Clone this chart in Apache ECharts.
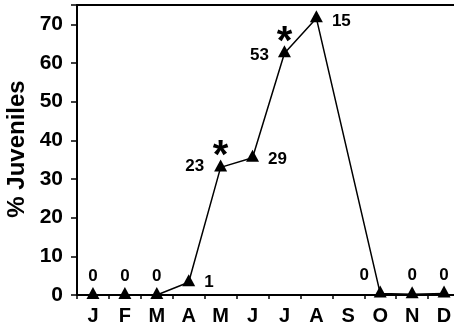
<!DOCTYPE html>
<html>
<head>
<meta charset="utf-8">
<script src="https://cdn.jsdelivr.net/npm/echarts@6/dist/echarts.min.js"></script>
<style>
html, body { margin: 0; padding: 0; background: #fff; }
#chart { width: 454px; height: 332px; }
</style>
</head>
<body>
<div id="chart"></div>
<script>
// months of the year
var months = ['J', 'F', 'M', 'A', 'M', 'J', 'J', 'A', 'S', 'O', 'N', 'D'];
// percent juveniles per month (no sample in S)
var juveniles = [0, 0, 0, 3.3, 33, 35.5, 62.5, 71.6, null, 0.4, 0.2, 0.4];
// sample size written next to each point
var sampleSizes = ['0', '0', '0', '1', '23', '29', '53', '15', '', '0', '0', '0'];
// months marked with an asterisk
var significant = [false, false, false, false, true, false, true, false, false, false, false, false];
var yTicks = [0, 10, 20, 30, 40, 50, 60, 70];
var yTitle = '% Juveniles';

var font = 'Liberation Sans, Arial, sans-serif';

// where each count label sits
var placement = {
    3: { position: 'right', offset: [0, 2] },
    4: { position: 'left', offset: [-1, 1] },
    5: { position: 'right', offset: [0, 4] },
    6: { position: 'left', offset: [0, 4] },
    7: { position: 'right', offset: [0, 5] },
    9: { position: 'top', offset: [-16, 0] }
};

var lineData = juveniles.map(function (v, i) {
    var p = placement[i] || { position: 'top' };
    return {
        value: v,
        label: {
            position: p.position,
            offset: p.offset || [0, 0],
            distance: p.position === 'top' ? 2 : 9,
            formatter: sampleSizes[i]
        }
    };
});

var starData = juveniles.map(function (v, i) {
    return significant[i] ? [i, v] : null;
}).filter(function (d) { return d; });

var myChart = echarts.init(document.getElementById('chart'));
var option = {
    animation: false,
    grid: { left: 77, right: -6, top: 5, bottom: 37, outerBoundsMode: 'none' },
    // y axis title, turned to read upwards
    graphic: [{
        type: 'text',
        x: 17,
        y: 149,
        rotation: Math.PI / 2,
        style: {
            text: yTitle,
            fill: '#000',
            font: 'bold 24px ' + font,
            align: 'center',
            verticalAlign: 'middle'
        }
    }],
    xAxis: [{
        type: 'category',
        data: months,
        axisLine: { lineStyle: { color: '#000', width: 2 } },
        axisTick: { show: true, length: 4, lineStyle: { color: '#000', width: 1.5 } },
        axisLabel: { color: '#000', fontFamily: font, fontWeight: 'bold', fontSize: 20, margin: 11 }
    }, {
        type: 'category',
        position: 'top',
        data: months,
        axisLine: { show: true, lineStyle: { color: '#000', width: 2 } },
        axisTick: { show: false },
        axisLabel: { show: false }
    }],
    yAxis: {
        type: 'value',
        min: 0,
        max: 75,
        interval: 10,
        axisLine: { show: true, lineStyle: { color: '#000', width: 2 } },
        axisTick: { show: true, length: 6, lineStyle: { color: '#000', width: 1.5 } },
        axisLabel: {
            color: '#000', fontFamily: font, fontWeight: 'bold', fontSize: 21, margin: 14,
            formatter: function (v) { return yTicks.indexOf(v) >= 0 ? v : ''; }
        },
        splitLine: { show: false }
    },
    series: [{
        type: 'line',
        data: lineData,
        connectNulls: true,
        symbol: 'triangle',
        symbolSize: [13, 12],
        symbolOffset: [0, -2],
        itemStyle: { color: '#000' },
        lineStyle: { color: '#000', width: 1.5 },
        label: {
            show: true,
            color: '#000',
            fontFamily: font,
            fontWeight: 'bold',
            fontSize: 17
        },
        z: 3
    }, {
        type: 'scatter',
        data: starData,
        symbol: 'circle',
        symbolSize: 1,
        itemStyle: { color: 'rgba(0,0,0,0)', opacity: 1 },
        label: {
            show: true,
            position: 'top',
            distance: 0,
            offset: [0, 10],
            formatter: '*',
            color: '#000',
            opacity: 1,
            fontFamily: font,
            fontWeight: 'bold',
            fontSize: 40,
            lineHeight: 40
        },
        z: 4
    }]
};
myChart.setOption(option);
</script>
</body>
</html>
